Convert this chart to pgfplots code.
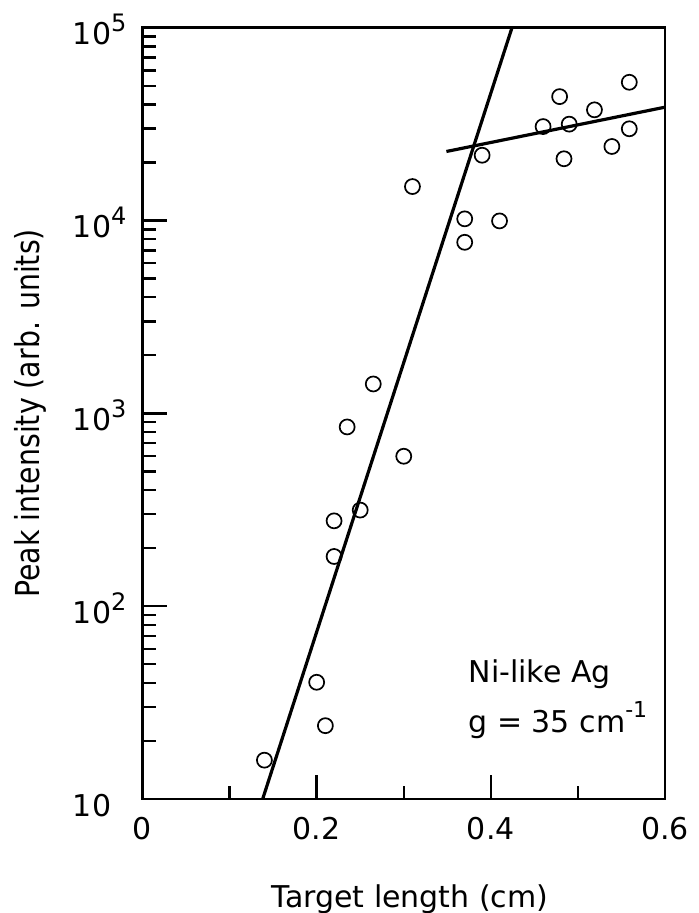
\documentclass[border=0pt]{standalone}
\usepackage{fontspec}
\setmainfont{DejaVu Sans}
\newfontfamily\condfont[FakeStretch=0.86]{DejaVu Sans}
\usepackage{pgfplots}
\pgfplotsset{compat=1.18}
% raised exponent for tick labels and units
\newcommand\expo[1]{\raisebox{6.5pt}{\fontsize{12pt}{14pt}\selectfont #1}}
\newcommand\unitexp[1]{\raisebox{7.5pt}{\fontsize{11pt}{13pt}\selectfont #1}}
\newcommand\lblfont{\fontsize{15pt}{18pt}\selectfont}
\begin{document}
\begin{tikzpicture}[x=1pt,y=1pt]
\begin{axis}[
  at={(71.25pt,57pt)}, anchor=south west,
  scale only axis, width=261.25pt, height=385.65pt,
  ymode=log, xmin=0, xmax=0.6, ymin=10, ymax=1e5,
  axis line style={line width=1.3pt},
  xtick={0,0.2,0.4,0.6}, xticklabels={0,0.2,0.4,0.6},
  minor xtick={0.1,0.3,0.5},
  ytick={10,100,1000,10000,100000},
  yticklabels={10\phantom{\expo{0}},10\expo{2},10\expo{3},10\expo{4},10\expo{5}},
  minor ytick={20,30,40,50,60,70,80,90,200,300,400,500,600,700,800,900,
    2000,3000,4000,5000,6000,7000,8000,9000,20000,30000,40000,50000,60000,70000,80000,90000},
  tick align=inside, tick pos=left,
  major tick length=12pt, minor tick length=6.5pt,
  tick style={line width=1.2pt, black},
  ticklabel style={font=\lblfont},
  xticklabel style={yshift=-5.5pt},
  yticklabel style={xshift=-4.5pt, yshift=-1pt},
  xlabel={Target length (cm)},
  ylabel={Peak intensity (arb. units)},
  label style={font=\lblfont},
  xlabel style={at={(axis description cs:0.512,-0.1413)}, anchor=base},
  ylabel style={at={(axis description cs:-0.198,0.5)}, anchor=base,
    font=\condfont\fontsize{16.5pt}{19pt}\selectfont},
]
% measured peak intensities
\addplot[only marks, mark=o, mark size=3.75pt, mark options={line width=0.85pt, black}] coordinates {
  (0.140,15.9) (0.200,40.3) (0.210,24.0) (0.220,181) (0.220,277)
  (0.250,315) (0.235,850) (0.265,1420) (0.300,599) (0.310,15000)
  (0.370,10200) (0.370,7710) (0.390,21800) (0.410,9950) (0.460,30700)
  (0.479,43900) (0.484,20900) (0.490,31600) (0.519,37500) (0.539,24200)
  (0.559,52100) (0.559,29900)
};
% exponential growth fit
\addplot[black, line width=1.6pt] coordinates {(0.138,10) (0.4243,100000)};
% saturation regime
\addplot[black, line width=1.6pt] coordinates {(0.349,22800) (0.6,38700)};
\node[anchor=base west, inner sep=0pt, font=\lblfont] at (axis cs:0.374,40) {Ni-like Ag};
\node[anchor=base west, inner sep=0pt, font=\lblfont] at (axis cs:0.374,22) {g = 35 cm\unitexp{-1}};
\end{axis}
\pgfresetboundingbox
\useasboundingbox (0,0) rectangle (349pt,456.5pt);
\end{tikzpicture}
\end{document}
